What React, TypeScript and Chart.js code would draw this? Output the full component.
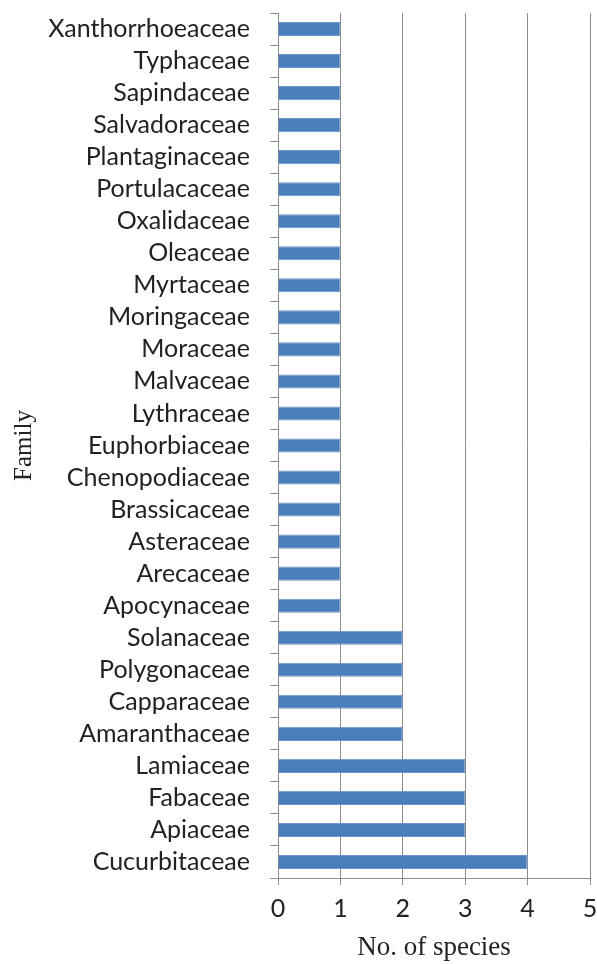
import React, { useEffect, useRef } from "react";
import { Chart, registerables } from "chart.js";

Chart.register(...registerables);

const families = [
  "Xanthorrhoeaceae", "Typhaceae", "Sapindaceae", "Salvadoraceae", "Plantaginaceae",
  "Portulacaceae", "Oxalidaceae", "Oleaceae", "Myrtaceae", "Moringaceae", "Moraceae",
  "Malvaceae", "Lythraceae", "Euphorbiaceae", "Chenopodiaceae", "Brassicaceae",
  "Asteraceae", "Arecaceae", "Apocynaceae", "Solanaceae", "Polygonaceae", "Capparaceae",
  "Amaranthaceae", "Lamiaceae", "Fabaceae", "Apiaceae", "Cucurbitaceae",
];
const speciesCounts = [
  1, 1, 1, 1, 1, 1, 1, 1, 1, 1, 1, 1, 1, 1, 1, 1, 1, 1, 1, 2, 2, 2, 2, 3, 3, 3, 4,
];
const xTicks = [0, 1, 2, 3, 4, 5];

export default function App() {
  const ref = useRef<HTMLCanvasElement>(null);
  useEffect(() => {
    document.body.style.margin = "0";
    const chart = new Chart(ref.current!, {
      type: "bar",
      data: {
        labels: families,
        datasets: [
          {
            data: speciesCounts,
            backgroundColor: "#4a7ebb",
            borderColor: "#6d97cc",
            borderWidth: 1,
            barPercentage: 0.44,
            categoryPercentage: 1,
          },
        ],
      },
      options: {
        indexAxis: "y",
        animation: false,
        responsive: false,
        layout: { padding: { top: 13, right: 7, left: 0, bottom: 0 } },
        plugins: { legend: { display: false }, tooltip: { enabled: false } },
        scales: {
          x: {
            min: 0,
            max: 5,
            afterBuildTicks: (s: any) => {
              s.ticks = xTicks.map((v) => ({ value: v }));
            },
            afterFit: (s: any) => {
              s.height = 964 - 878;
              s.paddingLeft = 0;
              s.paddingRight = 0;
            },
            grid: {
              color: "#8c8c8c",
              lineWidth: 1,
              tickLength: 7,
              drawTicks: true,
            },
            border: { color: "#8c8c8c", width: 1 },
            ticks: {
              color: "#222",
              font: { family: "Lato", size: 25 },
              padding: 9,
            },
            title: {
              display: true,
              text: "No. of species",
              color: "#222",
              font: { family: "Liberation Serif", size: 27 },
              padding: { top: 0, bottom: 0 },
            },
          },
          y: {
            afterFit: (s: any) => {
              s.width = 278;
              s.paddingTop = 0;
              s.paddingBottom = 0;
            },
            grid: {
              drawOnChartArea: false,
              color: "#8c8c8c",
              tickLength: 8,
            },
            border: { color: "#8c8c8c", width: 1 },
            ticks: {
              color: "#222",
              font: { family: "Lato", size: 25 },
              padding: 20,
              autoSkip: false,
            },
            title: {
              display: true,
              text: "Family",
              color: "#222",
              font: { family: "Liberation Serif", size: 25 },
              padding: { top: 9, bottom: 0 },
            },
          },
        },
      },
    });
    return () => chart.destroy();
  }, []);
  return <canvas ref={ref} width={597} height={964} style={{ display: "block" }} />;
}
